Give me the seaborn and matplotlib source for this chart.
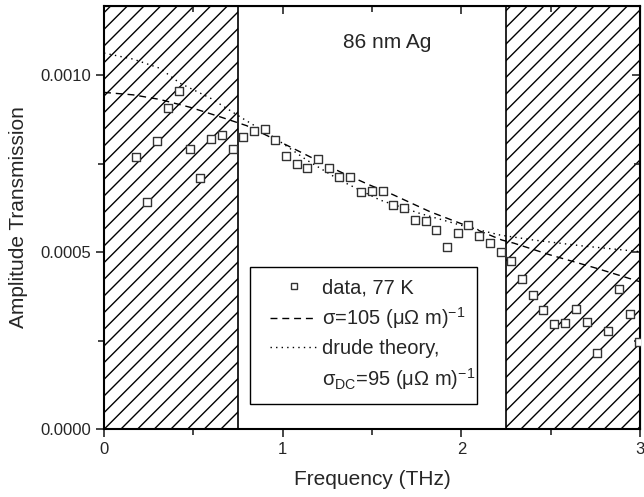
import numpy as np
import seaborn as sns
import matplotlib
matplotlib.use("Agg")
import matplotlib.pyplot as plt
from matplotlib.lines import Line2D
from matplotlib.patches import Rectangle
from matplotlib.ticker import MultipleLocator

# measured transmission, 77 K
freq_data = [0.177, 0.239, 0.298, 0.358, 0.420, 0.480, 0.537, 0.599, 0.659, 0.720,
             0.778, 0.838, 0.899, 0.957, 1.018, 1.080, 1.138, 1.198, 1.257, 1.317,
             1.378, 1.438, 1.500, 1.560, 1.619, 1.677, 1.739, 1.800, 1.860, 1.919,
             1.979, 2.039, 2.100, 2.162, 2.220, 2.279, 2.339, 2.399, 2.458, 2.520,
             2.581, 2.640, 2.701, 2.759, 2.820, 2.880, 2.942, 2.992]
trans_data = [0.000768, 0.000640, 0.000814, 0.000908, 0.000956, 0.000791, 0.000710,
              0.000820, 0.000831, 0.000790, 0.000824, 0.000843, 0.000847, 0.000816,
              0.000772, 0.000748, 0.000737, 0.000763, 0.000736, 0.000712, 0.000712,
              0.000669, 0.000672, 0.000671, 0.000634, 0.000625, 0.000591, 0.000587,
              0.000561, 0.000514, 0.000554, 0.000576, 0.000546, 0.000526, 0.000501,
              0.000474, 0.000424, 0.000378, 0.000337, 0.000297, 0.000300, 0.000340,
              0.000303, 0.000215, 0.000277, 0.000395, 0.000324, 0.000247]

# constant conductivity curve
freq_const = [0.0, 0.163, 0.313, 0.481, 0.649, 0.798, 1.022, 1.153, 1.320, 1.488,
              1.600, 1.824, 2.067, 2.226, 2.294, 2.496, 2.757, 3.0]
trans_const = [0.000951, 0.000944, 0.000931, 0.000909, 0.000882, 0.000857, 0.000802,
               0.000769, 0.000727, 0.000689, 0.000666, 0.000614, 0.000567, 0.000534,
               0.000525, 0.000492, 0.000454, 0.000416]

# drude theory curve
freq_drude = [0.0, 0.163, 0.313, 0.425, 0.598, 0.790, 0.945, 1.134, 1.320, 1.544,
              1.768, 2.030, 2.216, 2.402, 2.681, 3.0]
trans_drude = [0.001062, 0.001045, 0.001019, 0.000977, 0.000934, 0.000873, 0.000826,
               0.000760, 0.000703, 0.000647, 0.000609, 0.000571, 0.000548, 0.000534,
               0.000517, 0.000501]

sns.set_style("ticks")
plt.rcParams['font.family'] = ['Liberation Sans', 'DejaVu Sans']
plt.rcParams['mathtext.fontset'] = 'custom'
plt.rcParams['mathtext.rm'] = 'Liberation Sans'
plt.rcParams['mathtext.it'] = 'Liberation Sans'
plt.rcParams['mathtext.default'] = 'regular'
plt.rcParams['hatch.linewidth'] = 1.0

fig = plt.figure(figsize=(6.44, 4.97), dpi=100)
ax = fig.add_axes([104/644, 1-429/497, 536/644, 423/497])

# hatched regions
for lo, hi in [(0, 0.75), (2.25, 3.0)]:
    ax.axvspan(lo, hi, facecolor='none', edgecolor='black', hatch='//', linewidth=1.2, zorder=0)

sns.lineplot(x=freq_const, y=trans_const, ax=ax, color='black', lw=1.0,
             linestyle=(0, (5, 3.5)), zorder=3)
sns.lineplot(x=freq_drude, y=trans_drude, ax=ax, color='black', lw=1.0,
             linestyle=(0, (1, 3)), zorder=3)
sns.scatterplot(x=freq_data, y=trans_data, ax=ax, marker='s', s=32,
                facecolor='white', edgecolor='#333333', linewidth=1.0, zorder=4)

ax.set_xlim(0, 3)
ax.set_ylim(0, 0.001195)
ax.xaxis.set_major_locator(MultipleLocator(1))
ax.xaxis.set_minor_locator(MultipleLocator(0.5))
ax.yaxis.set_major_locator(MultipleLocator(0.0005))
ax.yaxis.set_minor_locator(MultipleLocator(0.00025))
ax.yaxis.set_major_formatter(matplotlib.ticker.FormatStrFormatter('%.4f'))
ax.tick_params(which='major', direction='out', length=6, width=1.2, labelsize=12, pad=3)
ax.tick_params(which='minor', direction='out', length=4, width=1.2)
for sp in ax.spines.values():
    sp.set_linewidth(1.5)
    sp.set_color('black')

# top and right axes, inward ticks
top = ax.secondary_xaxis('top')
top.xaxis.set_major_locator(MultipleLocator(1))
top.xaxis.set_minor_locator(MultipleLocator(0.5))
top.tick_params(which='both', direction='in', labeltop=False, width=1.2)
top.tick_params(which='major', length=6)
top.tick_params(which='minor', length=4)
right = ax.secondary_yaxis('right')
right.yaxis.set_major_locator(MultipleLocator(0.0005))
right.yaxis.set_minor_locator(MultipleLocator(0.00025))
right.tick_params(which='both', direction='in', labelright=False, width=1.2)
right.tick_params(which='major', length=6)
right.tick_params(which='minor', length=4)

ax.set_xlabel('Frequency (THz)', fontsize=15, labelpad=10)
ax.set_ylabel('Amplitude Transmission', fontsize=15, labelpad=9)

ax.text(1.584, 0.001093, '86 nm Ag', fontsize=15, ha='center', va='center')

# legend frame drawn separately, entries placed inside it
ax.add_patch(Rectangle((0.272, 0.059), 0.4235, 0.324, transform=ax.transAxes,
                       facecolor='white', edgecolor='black', lw=1.0, zorder=5))
handles = [
    Line2D([], [], marker='s', ls='none', markersize=5, markerfacecolor='white',
           markeredgecolor='#333333', markeredgewidth=1.0),
    Line2D([], [], color='black', lw=1.0, ls=(0, (5, 3.5))),
    Line2D([], [], color='black', lw=1.0, ls=(0, (1, 3))),
    Line2D([], [], ls='none'),
]
labels = ['data, 77 K',
          'σ=105 (μΩ m)$^{-1}$',
          'drude theory,',
          'σ$_{DC}$=95 (μΩ m)$^{-1}$']
leg = ax.legend(handles, labels, loc='center left', bbox_to_anchor=(0.3097, 0.222),
                fontsize=14.5, frameon=False, handlelength=2.35, handletextpad=0.25,
                labelspacing=0.4, borderpad=0, borderaxespad=0)
leg.set_zorder(6)

fig.savefig('out.png', dpi=100)
